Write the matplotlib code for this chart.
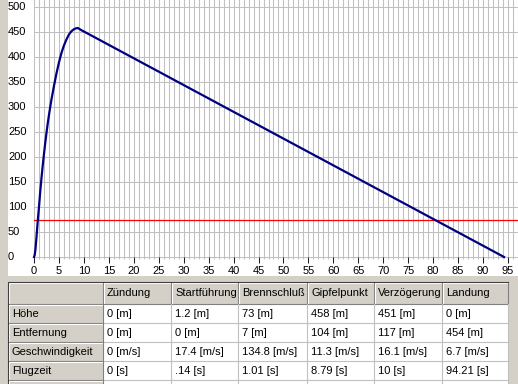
import matplotlib
matplotlib.use("Agg")
import matplotlib.pyplot as plt
from matplotlib.patches import Rectangle

plt.rcParams['font.family'] = ['Liberation Sans', 'DejaVu Sans']

# flight curve: time [s] vs height [m]
flight_time = [0, 0.14, 0.3, 0.5, 0.75, 1.0, 1.25, 1.5, 1.75, 2.0, 2.25, 2.5, 2.75, 3.0,
               3.25, 3.5, 4.0, 4.5, 5.0, 5.5, 6.0, 6.5, 7.0, 7.5, 8.0, 8.4, 8.79,
               9.2, 9.6, 10.0, 94.21]
flight_height = [0, 4, 16, 40, 72, 100, 131, 158, 183, 206, 228, 248, 267, 284,
                 300, 315, 342, 367, 389, 408, 423, 435, 445, 451.5, 455.5, 457.3, 458,
                 455.5, 453, 451, 0]
red_level = 75

x_ticks = list(range(0, 100, 5))
y_ticks = list(range(0, 550, 50))

# table
col_headers = ["Zündung", "Startführung", "Brennschluß", "Gipfelpunkt", "Verzögerung", "Landung"]
row_headers = ["Höhe", "Entfernung", "Geschwindigkeit", "Flugzeit"]
hoehe = ["0 [m]", "1.2 [m]", "73 [m]", "458 [m]", "451 [m]", "0 [m]"]
entfernung = ["0 [m]", "0 [m]", "7 [m]", "104 [m]", "117 [m]", "454 [m]"]
geschwindigkeit = ["0 [m/s]", "17.4 [m/s]", "134.8 [m/s]", "11.3 [m/s]", "16.1 [m/s]", "6.7 [m/s]"]
flugzeit = ["0 [s]", ".14 [s]", "1.01 [s]", "8.79 [s]", "10 [s]", "94.21 [s]"]
table_rows = [hoehe, entfernung, geschwindigkeit, flugzeit]

W, H = 518, 384
GRAY = "#d4d0c8"
fig = plt.figure(figsize=(W / 100, H / 100), dpi=100)
fig.patch.set_facecolor("white")

# background / table axes in pixel coords
bg = fig.add_axes([0, 0, 1, 1])
bg.set_xlim(0, W)
bg.set_ylim(H, 0)
bg.axis("off")
bg.add_patch(Rectangle((0, 0), 8, H, color=GRAY, lw=0))
bg.add_patch(Rectangle((0, 276), W, H - 276, color=GRAY, lw=0))

col_x = [8, 103, 171, 238, 307, 374, 442, 508]
row_y = [282, 304, 323, 342, 361, 380, 399]
fs = 8
for r in range(len(row_y) - 1):
  for c in range(len(col_x) - 1):
    x0, x1 = col_x[c], col_x[c + 1]
    y0, y1 = row_y[r], row_y[r + 1]
    header = (r == 0 or c == 0)
    bg.add_patch(Rectangle((x0, y0), x1 - x0, y1 - y0,
                           facecolor=GRAY if header else "white", lw=0))
    if header:
      bg.plot([x0 + 0.5, x0 + 0.5, x1 - 1], [y1 - 1, y0 + 0.5, y0 + 0.5], color="white", lw=0.8)
      bg.plot([x0, x1 - 0.5, x1 - 0.5], [y1 - 0.5, y1 - 0.5, y0], color="#808080", lw=0.8)
    else:
      bg.plot([x0, x1 - 0.5, x1 - 0.5], [y1 - 0.5, y1 - 0.5, y0], color="#c0c0c0", lw=0.8)
    text = None
    if r == 0 and c > 0:
      text = col_headers[c - 1]
    elif r > 0 and r - 1 < len(row_headers):
      text = row_headers[r - 1] if c == 0 else table_rows[r - 1][c - 1]
    if text:
      bg.text(x0 + 4, (y0 + y1) / 2 + 0.5, text, fontsize=fs, ha="left", va="center")
bg.plot([8, 8, 508], [H, 281.5, 281.5], color="#404040", lw=0.8)

# chart axes: x=0 at px 34, x=95 at px 508; y=0 at px 257, y=500 at px 7
px_per_x = (508 - 34) / 95
ax = fig.add_axes([8 / W, (H - 276) / H, (W - 8) / W, 276 / H])
ax.set_xlim((8 - 34) / px_per_x, (W - 34) / px_per_x)
ax.set_ylim((257 - 276) * 2, 257 * 2)
ax.axis("off")

ax.vlines(range(0, 97), -4, 520, color="#c0c0c0", lw=0.75)
ax.hlines(y_ticks, 0, 100, color="#c0c0c0", lw=0.75)
ax.vlines(x_ticks, -12, 0, color="#202020", lw=0.75)
ax.axhline(red_level, xmin=0.051, color="#ff0000", lw=0.9)
ax.plot(flight_time, flight_height, color="#000080", lw=1.6, solid_joinstyle="round")

for xt in x_ticks:
  ax.text(xt, -28, str(xt), fontsize=fs, ha="center", va="center")
x_lab = (8 - 34) / px_per_x
for yt in y_ticks:
  ax.text(x_lab, yt, str(yt), fontsize=fs, ha="left", va="center")

fig.savefig("out.png", dpi=100, facecolor="white")
